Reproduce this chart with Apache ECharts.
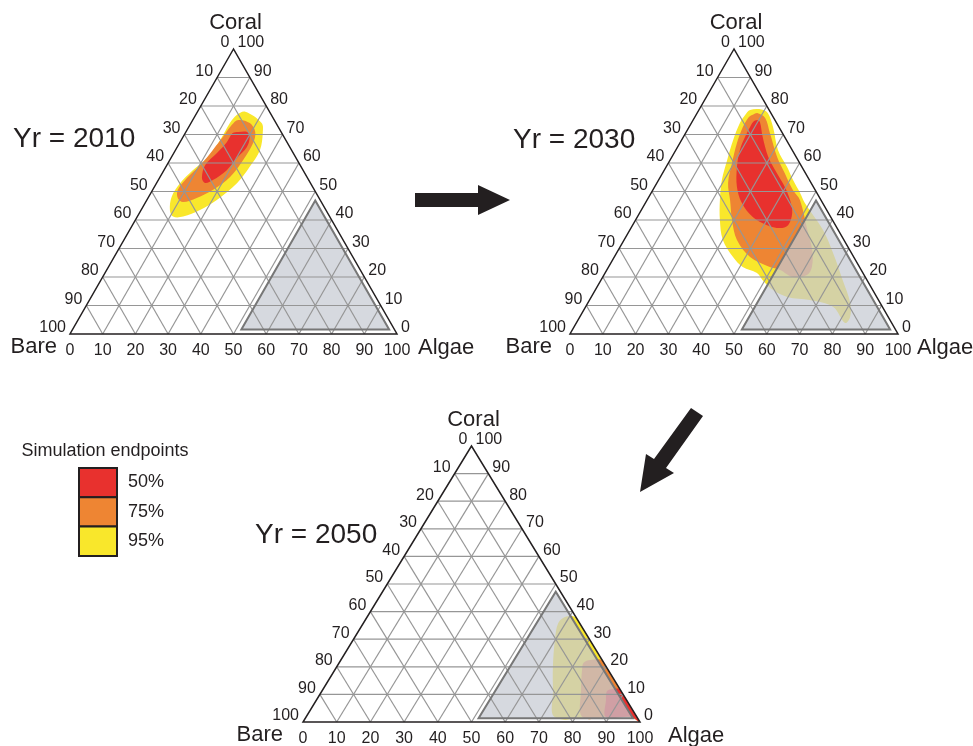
<!DOCTYPE html>
<html>
<head>
<meta charset="utf-8">
<script src="https://cdn.jsdelivr.net/npm/echarts@6/dist/echarts.min.js"></script>
<style>
html,body{margin:0;padding:0;background:#fff}
#chart{width:973px;height:746px}
</style>
</head>
<body>
<div id="chart"></div>
<script>
// Ternary axis ticks (percent)
const ticks = [0, 10, 20, 30, 40, 50, 60, 70, 80, 90, 100];
const years = ['2010', '2030', '2050'];
const levels = ['50%', '75%', '95%'];

// Density regions of simulation endpoints, points as [coral %, algae %]; bare = 100 - coral - algae
const y2010_95 = [[78,14.6],[74,21.6],[70.5,23.7],[64.6,25.8],[58.7,25.6],[52.9,24.6],[47,21.4],[43.5,18],[41.2,14],[41.2,10.9],[43.5,8.8],[48.2,7],[52.9,7.2],[57.5,8.8],[61.6,11],[68.1,11.9],[74,11.9],[76.8,12.6]];
const y2010_75 = [[75.1,13.9],[74,18],[70.9,21.2],[67,22.5],[61,22.4],[55.1,21.4],[50.5,18.4],[47.7,14.9],[46.3,11.4],[47.7,9.1],[50.5,7.7],[54.7,8.4],[59.3,10.2],[64.6,11.4],[69.1,12.2],[73.3,12.8]];
const y2010_50 = [[70.9,16],[70.9,18.7],[69.1,20.4],[65.6,21.3],[61.8,20.2],[57.5,19.2],[54,16.7],[53,14.8],[54.7,13],[59.3,11.7],[63.5,13.2],[67.4,14.3],[70.5,14.5]];

const y2030_95 = [[78.6,15.6],[78.8,19],[77.5,21.6],[72.6,25.6],[64.6,31.1],[58.6,36.9],[54,41],[49.5,45.4],[46,48.6],[36.5,58.9],[28.4,66],[18.9,73.7],[10.9,80],[6,82.4],[3.9,81.9],[9.5,75.5],[11.9,67.2],[13,59.7],[15.4,54.2],[18.9,49.3],[21.4,46.3],[23.5,40.9],[27,36.2],[33,30.1],[40,25.7],[47,22.2],[54,19.3],[61,17.4],[68.1,15.7],[74,14.8],[76.8,15]];
const y2030_75 = [[76.8,17.1],[77.5,18.5],[75.8,21.6],[70.5,25.7],[62.1,32.1],[56.5,37.2],[50.5,42.7],[47,46.6],[36.5,54.1],[29.5,59.1],[23.5,62],[20.7,61.9],[20,58],[22.5,52.8],[23.9,48.2],[27,41.4],[33,34.4],[40,29.4],[47,25.3],[53,21.7],[60,19.4],[67,17.4],[72.6,16.4],[75.8,16.4]];
const y2030_50 = [[75.1,19.5],[74.4,20.7],[69.1,24.2],[62.1,29.4],[56.5,34.8],[51.6,39.7],[47,43.6],[42.5,46.5],[38.2,47.4],[37.2,45.4],[38.2,41],[41,35.3],[46,29.4],[51.6,25.1],[58.6,21.6],[64.6,19.5],[69.1,18.8],[72.6,18.6],[74.4,18.6]];

const y2050_95 = [[1.8,73.8],[11.6,68.4],[19.9,64.2],[29.7,59.9],[35.9,57.8],[38.2,59],[37.8,62.2],[30,70],[20,80],[10,90],[0,100],[1.8,96.4],[1.8,85]];
const y2050_75 = [[1.8,82],[11.6,76.7],[18.8,73.4],[21.5,72.5],[22.5,74],[22.2,77.8],[15,85],[8,92],[0,100],[1.8,96.4],[1.8,90]];
const y2050_50 = [[1.8,89],[8,85.9],[11.2,84.6],[12,86],[11.8,88.2],[6,94],[0,100],[1.8,96.4]];

// Fill colours for the 50 / 75 / 95 % levels
const levelColors = ['#e8312e', '#ee8533', '#f9e72b'];

const FONT = '"Liberation Sans", Arial, Helvetica, sans-serif';
const INK = '#231f20';

const panels = [
  { year: years[0], regions: [y2010_95, y2010_75, y2010_50], box: { left: 70, top: 49, width: 327, height: 285 }, inset: 1.6, bareDx: -13, algaeDx: 21, yrX: 13, yrY: 139 },
  { year: years[1], regions: [y2030_95, y2030_75, y2030_50], box: { left: 570, top: 49, width: 328, height: 285 }, inset: 1.6, bareDx: -18, algaeDx: 19, yrX: 513, yrY: 140 },
  { year: years[2], regions: [y2050_95, y2050_75, y2050_50], box: { left: 303, top: 446, width: 337, height: 276 }, inset: 1.4, bareDx: -20, algaeDx: 28, yrX: 255, yrY: 535 }
];

// ternary (coral, algae) -> cartesian (x, y) of the triangle's grid
const toXY = (c, a) => [a + c / 2, c];

function txt(text, x, y, size, align, valign, extra) {
  return Object.assign({
    type: 'text',
    style: {
      text: text, x: x, y: y, font: size + 'px ' + FONT, fill: INK,
      align: align, verticalAlign: valign, textAlign: align, textVerticalAlign: valign
    }
  }, extra || {});
}

const grids = [], xAxes = [], yAxes = [], series = [], graphics = [];

panels.forEach((p, i) => {
  grids.push({ left: p.box.left, top: p.box.top, width: p.box.width, height: p.box.height });
  xAxes.push({ type: 'value', gridIndex: i, min: 0, max: 100, show: false });
  yAxes.push({ type: 'value', gridIndex: i, min: 0, max: 100, show: false });

  // endpoint density regions, 95% underneath, 50% on top
  series.push({
    type: 'custom', name: 'Simulation endpoints ' + p.year,
    xAxisIndex: i, yAxisIndex: i, silent: true, z: 2,
    data: p.regions.map((_, k) => [k]),
    renderItem: (params, api) => {
      const k = params.dataIndex;
      const pts = p.regions[k].map(([c, a]) => api.coord(toXY(c, a)));
      return { type: 'polygon', shape: { points: pts, smooth: 0.35 }, style: { fill: levelColors[2 - k] } };
    }
  });

  // triangle frame: masking margin, algae-dominated zone, grid, outline, tick labels
  series.push({
    type: 'custom', name: 'frame ' + p.year,
    xAxisIndex: i, yAxisIndex: i, silent: true, z: 3,
    data: [[0]],
    renderItem: (params, api) => {
      const P = (c, a) => api.coord(toXY(c, a));
      const Q = (x, y) => api.coord([x, y]);
      const kids = [];
      // white margin outside the right and bottom edges keeps smoothed regions inside
      kids.push({ type: 'polygon', shape: { points: [Q(50, 100), Q(62, 100), Q(112, 0), Q(112, -4), Q(40, -4), Q(40, 0), Q(100, 0)] }, style: { fill: '#fff' } });
      // algae-dominated zone
      const d = p.inset;
      const zone = [P(d, 100 - 2 * d), P(d, 50 + d), P(50 - 2 * d, 50 + d)];
      kids.push({ type: 'polygon', shape: { points: zone }, style: { fill: 'rgba(198,202,210,0.72)' } });
      // grid lines every 10 %
      ticks.slice(1, -1).forEach(k => {
        const segs = [
          [P(k, 0), P(k, 100 - k)],
          [P(0, k), P(100 - k, k)],
          [P(0, 100 - k), P(100 - k, 0)]
        ];
        segs.forEach(([s, e]) => kids.push({
          type: 'line', shape: { x1: s[0], y1: s[1], x2: e[0], y2: e[1] },
          style: { stroke: '#969696', lineWidth: 1.2 }
        }));
      });
      kids.push({ type: 'polygon', shape: { points: zone }, style: { fill: 'none', stroke: '#777', lineWidth: 2, lineJoin: 'miter' } });
      kids.push({ type: 'polygon', shape: { points: [P(100, 0), P(0, 0), P(0, 100)] }, style: { fill: 'none', stroke: INK, lineWidth: 1.5, lineJoin: 'miter' } });
      // tick labels: bare on the left edge, coral on the right edge, algae along the base
      ticks.forEach(k => {
        const l = P(100 - k, 0);
        kids.push(txt(String(k), l[0] - 4, l[1] - 6, 16, 'right', 'middle'));
        const r = P(k, 100 - k);
        kids.push(txt(String(k), r[0] + 4, r[1] - 6, 16, 'left', 'middle'));
        const b = P(0, k);
        kids.push(txt(String(k), b[0], b[1] + 17, 16, 'center', 'middle'));
      });
      return { type: 'group', children: kids };
    }
  });

  const b = p.box;
  graphics.push(txt('Coral', b.left + b.width / 2 + 2, b.top - 26, 22, 'center', 'middle', { z: 100 }));
  graphics.push(txt('Bare', b.left + p.bareDx, b.top + b.height + 13, 22, 'right', 'middle', { z: 100 }));
  graphics.push(txt('Algae', b.left + b.width + p.algaeDx, b.top + b.height + 14, 22, 'left', 'middle', { z: 100 }));
  graphics.push(txt('Yr = ' + p.year, p.yrX, p.yrY, 28, 'left', 'middle', { z: 100 }));
});

// arrows between the time steps
graphics.push({ type: 'polygon', z: 100, shape: { points: [[415,193],[478,193],[478,185],[510,200],[478,215],[478,207],[415,207]] }, style: { fill: INK } });
graphics.push({ type: 'polygon', z: 100, shape: { points: [[691,408],[703,416],[666,468],[674,473],[640,492],[646,454],[654,459]] }, style: { fill: INK } });

// legend
graphics.push(txt('Simulation endpoints', 105, 451, 18, 'center', 'middle', { z: 100 }));
levels.forEach((lv, k) => {
  const y0 = 468 + k * 29.3;
  graphics.push({ type: 'rect', z: 100, shape: { x: 79, y: y0, width: 38, height: 29.3 }, style: { fill: levelColors[k], stroke: INK, lineWidth: 2 } });
  graphics.push(txt(lv, 128, y0 + 14.5, 18, 'left', 'middle', { z: 101 }));
});

const chart = echarts.init(document.getElementById('chart'));
chart.setOption({
  animation: false,
  backgroundColor: '#fff',
  grid: grids,
  xAxis: xAxes,
  yAxis: yAxes,
  series: series,
  graphic: graphics
});
</script>
</body>
</html>
